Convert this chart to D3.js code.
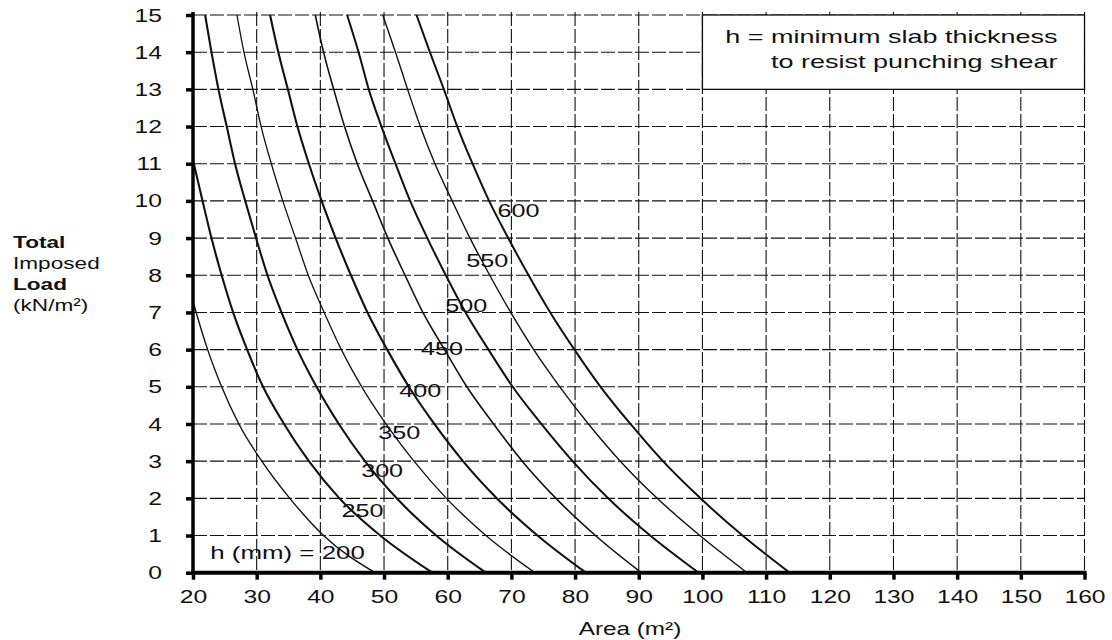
<!DOCTYPE html>
<html>
<head>
<meta charset="utf-8">
<script src="https://cdn.jsdelivr.net/npm/d3@7"></script>
<style>
  html, body { margin: 0; padding: 0; background: #fff; }
  svg text { font-family: "Liberation Sans", Arial, sans-serif; fill: #111; }
</style>
</head>
<body>
<svg id="chart" width="1112" height="640"></svg>
<script>
// ---------------- data ----------------
const xTicks = [20, 30, 40, 50, 60, 70, 80, 90, 100, 110, 120, 130, 140, 150, 160];
const yTicks = [0, 1, 2, 3, 4, 5, 6, 7, 8, 9, 10, 11, 12, 13, 14, 15];
const thickness = [200, 250, 300, 350, 400, 450, 500, 550, 600];

// [area m², total imposed load kN/m²]
const c200 = [[20, 7.3], [20.5, 7], [22.3, 6], [24.5, 5], [27.2, 4], [30.8, 3], [35.2, 2], [40.5, 1], [48.6, 0]];
const c250 = [[20, 11.1], [21.5, 10], [22.9, 9], [24.5, 8], [26.3, 7], [28.5, 6], [31.0, 5], [34.3, 4], [38.2, 3], [43.0, 2], [49.4, 1], [57.6, 0]];
const c300 = [[21.9, 15], [22.9, 14], [24.0, 13], [25.3, 12], [26.6, 11], [28.2, 10], [29.9, 9], [31.7, 8], [33.9, 7], [36.4, 6], [39.4, 5], [42.9, 4], [47.0, 3], [52.0, 2], [58.2, 1], [66.0, 0]];
const c350 = [[26.9, 15], [28.0, 14], [29.4, 13], [30.7, 12], [32.3, 11], [34.1, 10], [36.1, 9], [38.1, 8], [40.6, 7], [43.3, 6], [46.5, 5], [50.3, 4], [54.7, 3], [59.8, 2], [66.0, 1], [73.7, 0]];
const c400 = [[32.1, 15], [33.4, 14], [34.9, 13], [36.4, 12], [38.2, 11], [40.2, 10], [42.4, 9], [44.8, 8], [47.4, 7], [50.5, 6], [53.9, 5], [57.9, 4], [62.4, 3], [67.7, 2], [74.1, 1], [81.7, 0]];
const c450 = [[39.2, 15], [40.5, 14], [42.1, 13], [43.8, 12], [45.8, 11], [48.2, 10], [50.6, 9], [53.3, 8], [56.1, 7], [59.5, 6], [63.0, 5], [67.2, 4], [71.7, 3], [77.0, 2], [83.2, 1], [90.4, 0]];
const c500 = [[44.2, 15], [46.0, 14], [47.6, 13], [49.6, 12], [51.8, 11], [54.1, 10], [56.8, 9], [59.7, 8], [62.8, 7], [66.4, 6], [70.2, 5], [74.7, 4], [79.6, 3], [85.2, 2], [91.8, 1], [99.4, 0]];
const c550 = [[49.8, 15], [51.8, 14], [53.7, 13], [55.7, 12], [58.0, 11], [60.7, 10], [63.5, 9], [66.6, 8], [69.9, 7], [73.5, 6], [77.6, 5], [82.1, 4], [87.1, 3], [92.9, 2], [99.6, 1], [107.0, 0]];
const c600 = [[55.1, 15], [57.2, 14], [59.4, 13], [61.5, 12], [63.9, 11], [66.5, 10], [69.5, 9], [72.7, 8], [76.1, 7], [79.9, 6], [84.0, 5], [88.7, 4], [93.8, 3], [99.7, 2], [106.3, 1], [113.7, 0]];
const curves = [c200, c250, c300, c350, c400, c450, c500, c550, c600];

// curve label anchor points [area, load]
const labelText = ["h (mm) = 200", "250", "300", "350", "400", "450", "500", "550", "600"];
const labelAt = [[22.7, 0.56], [46.6, 1.69], [49.7, 2.74], [52.4, 3.78], [55.7, 4.91], [59.1, 6.04], [62.9, 7.2], [66.2, 8.41], [71.1, 9.75]];

const yTitle = ["Total", "Imposed", "Load", "(kN/m²)"];
const xTitle = "Area (m²)";
const noteLines = ["h = minimum slab thickness", "to resist punching shear"];

// ---------------- drawing ----------------
const svg = d3.select("#chart");
const x = d3.scaleLinear().domain([20, 160]).range([193, 1084.5]);
const y = d3.scaleLinear().domain([0, 15]).range([572.7, 15]);

const widths = [1.4, 2.1, 2.1, 1.3, 2.1, 1.6, 2.0, 1.4, 2.0];

// grid
const grid = svg.append("g");
grid.selectAll("line.h").data(yTicks.filter(d => d > 0)).join("line")
  .attr("x1", x(20)).attr("x2", x(160))
  .attr("y1", d => y(d)).attr("y2", d => y(d))
  .attr("stroke", "#111").attr("stroke-width", 1.1)
  .attr("stroke-dasharray", "14,3");
grid.selectAll("line.v").data(xTicks.filter(d => d > 20)).join("line")
  .attr("x1", d => x(d)).attr("x2", d => x(d))
  .attr("y1", y(15) - 3).attr("y2", y(0))
  .attr("stroke", "#111").attr("stroke-width", 1.1)
  .attr("stroke-dasharray", "14,3");

// legend/note box (covers grid)
const bx0 = x(100), bx1 = x(160), by0 = y(15), by1 = y(13);
svg.append("rect")
  .attr("x", bx0).attr("y", by0).attr("width", bx1 - bx0).attr("height", by1 - by0)
  .attr("fill", "#fff").attr("stroke", "#111").attr("stroke-width", 1.3);
svg.append("g").selectAll("text").data(noteLines).join("text")
  .attr("text-anchor", "end")
  .attr("transform", (d, i) => `translate(${bx1 - 27},${by0 + 28 + i * 25}) scale(1.5,1)`)
  .attr("font-size", 18)
  .text(d => d);

// curves
const line = d3.line().x(d => x(d[0])).y(d => y(d[1])).curve(d3.curveMonotoneX);
svg.append("g").selectAll("path").data(curves).join("path")
  .attr("d", line)
  .attr("fill", "none")
  .attr("stroke", "#111")
  .attr("stroke-width", (d, i) => widths[i]);

// curve labels
svg.append("g").selectAll("text").data(labelText).join("text")
  .attr("text-anchor", (d, i) => i === 0 ? "start" : "middle")
  .attr("dy", "0.36em")
  .attr("font-size", 18.5)
  .attr("transform", (d, i) => `translate(${x(labelAt[i][0])},${y(labelAt[i][1])}) scale(${i === 0 ? 1.4 : 1.36},1)`)
  .text(d => d);

// axes
const xAxis = d3.axisBottom(x).tickValues(xTicks).tickSize(7).tickPadding(10).tickFormat(d3.format("d"));
const gx = svg.append("g").attr("transform", `translate(0,${y(0)})`).call(xAxis);
gx.select(".domain").remove();
gx.selectAll(".tick line").attr("stroke", "#000").attr("stroke-width", 3.5);
gx.selectAll(".tick text")
  .attr("font-family", "Liberation Sans, Arial, sans-serif")
  .attr("font-size", 19).attr("fill", "#111")
  .attr("transform", "scale(1.3,1)");

const yAxis = d3.axisLeft(y).tickValues(yTicks).tickSize(7).tickFormat(d3.format("d"));
const gy = svg.append("g").attr("transform", `translate(${x(20)},0)`).call(yAxis);
gy.select(".domain").remove();
gy.selectAll(".tick line").attr("stroke", "#000").attr("stroke-width", 3.5);
gy.selectAll(".tick text")
  .attr("font-family", "Liberation Sans, Arial, sans-serif")
  .attr("font-size", 19).attr("fill", "#111")
  .attr("x", null)
  .attr("text-anchor", "end")
  .attr("transform", "translate(-31,0) scale(1.3,1)");

// axis lines (thick)
svg.append("line").attr("x1", x(20)).attr("x2", x(20)).attr("y1", y(15) - 3).attr("y2", y(0) + 2)
  .attr("stroke", "#000").attr("stroke-width", 3.5);
svg.append("line").attr("x1", x(20) - 2).attr("x2", x(160) + 2).attr("y1", y(0)).attr("y2", y(0))
  .attr("stroke", "#000").attr("stroke-width", 4);

// titles
svg.append("text").attr("text-anchor", "middle")
  .attr("transform", `translate(630,635) scale(1.35,1)`)
  .attr("font-size", 18).text(xTitle);
svg.append("g").selectAll("text").data(yTitle).join("text")
  .attr("transform", (d, i) => `translate(13,${248 + i * 21}) scale(1.33,1)`)
  .attr("font-size", 17)
  .attr("font-weight", (d, i) => (i === 0 || i === 2) ? "bold" : "normal")
  .text(d => d);
</script>
</body>
</html>
